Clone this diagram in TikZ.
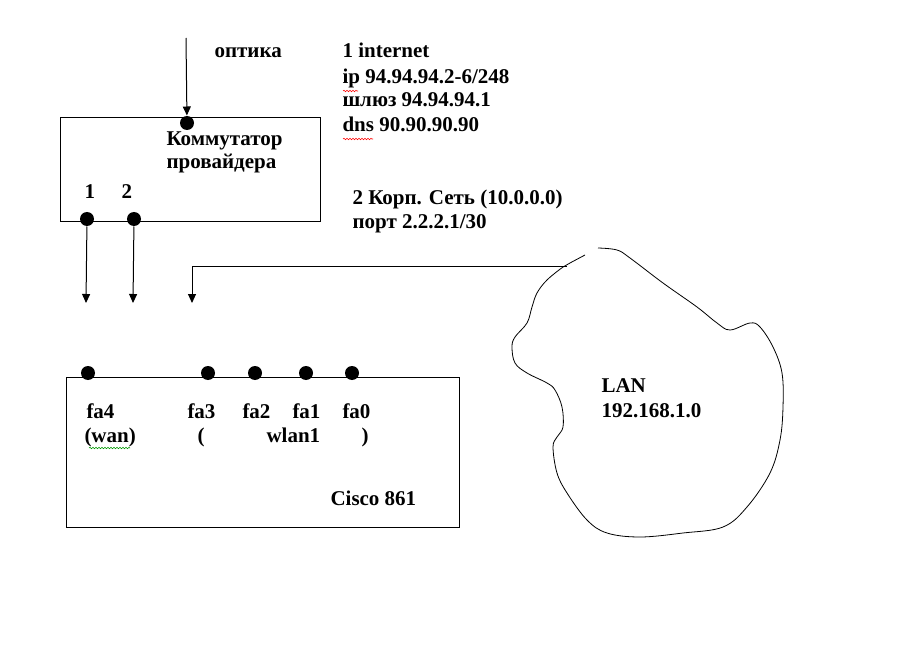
\documentclass[tikz,border=0pt]{standalone}
\usepackage{fontspec}
\setmainfont{Liberation Serif}
\usetikzlibrary{arrows.meta,decorations.pathmorphing}
\begin{document}
\begin{tikzpicture}[x=1pt,y=-1pt,
  line width=1pt,
  txt/.style={anchor=base west,inner sep=0pt,font=\fontsize{21}{25}\selectfont\bfseries},
  portdot/.style={circle,fill=black,inner sep=0pt,minimum size=14pt},
  box/.style={draw,line width=1pt},
  arr/.style={-{Triangle[length=9pt,width=8pt]},line width=1pt},
  wavy/.style={decorate,decoration={snake,amplitude=0.7pt,segment length=3pt},line width=0.6pt}]
\useasboundingbox (0,0) rectangle (913,663);
% provider switch
\draw[box] (60,118) rectangle (320,222);
\node[portdot] (dotop) at (187,123) {};
\coordinate (optin) at (186,38);
\draw[arr] (optin) -- (dotop);
\node[txt] (optika) at (214,58) {оптика};
\node[txt] (kom) at (166,146) {Коммутатор};
\node[txt] (prov) at (166,169) {провайдера};
\node[txt] (n1) at (84,199) {1};
\node[txt] (n2) at (121,199) {2};
\node[portdot] (p1) at (87,219) {};
\node[portdot] (p2) at (134,219) {};
\coordinate (a1) at (86,303);
\coordinate (a2) at (133,303);
\coordinate (a3) at (192,303);
\draw[arr] (p1) -- (a1);
\draw[arr] (p2) -- (a2);
% info text
\node[txt] (t1) at (342,58) {1 internet};
\node[txt] (t2) at (342,84) {ip 94.94.94.2-6/248};
\node[txt] (t3) at (342,107) {шлюз 94.94.94.1};
\node[txt] (t4) at (342,132) {dns 90.90.90.90};
\draw[wavy,red] (343,91) -- (358,91);
\draw[wavy,red] (343,139) -- (373,139);
\node[txt] (t5) at (352,205) {2 Корп. Сеть (10.0.0.0)};
\node[txt] (t6) at (352,229) {порт 2.2.2.1/30};
% Cisco box
\draw[box] (66,377) rectangle (459,527);
\node[portdot] (fa4) at (88,373) {};
\node[portdot] (fa3) at (208,373) {};
\node[portdot] (fa2) at (255,373) {};
\node[portdot] (fa1) at (306,373) {};
\node[portdot] (fa0) at (352,373) {};
\node[txt] (l4) at (86,418) {fa4};
\node[txt] (l3) at (187,418) {fa3};
\node[txt] (l2) at (242,418) {fa2};
\node[txt] (l1) at (292,418) {fa1};
\node[txt] (l0) at (342,418) {fa0};
\node[txt] (wan) at (84,442) {(wan)};
\draw[wavy,green!60!black] (89,448) -- (130,448);
\node[txt] (lp) at (197,442) {(};
\node[txt] (wl) at (266,442) {wlan1};
\node[txt] (rp) at (361,442) {)};
\node[txt] (cisco) at (330,505) {Cisco 861};
% LAN cloud
\draw[line width=0.8pt] plot[smooth,tension=0.6] coordinates {
 (598,248) (617,250) (630,258) (663,283) (697,307) (717,323) (730,330)
 (750,323) (760,327) (773,347) (782,373) (783,407) (780,440) (770,473)
 (747,507) (723,527) (683,533) (640,537) (607,533) (587,520) (567,493)
 (557,473) (553,447) (557,437) (563,427) (562,407) (555,390) (547,383)
 (527,373) (515,363) (512,347) (515,337) (527,323) (532,307) (537,293)
 (547,280) (563,267) (570,263) (585,255)};
\coordinate (cloudend) at (567,266);
\draw[arr] (cloudend) -| (a3);
\node[txt] (lan) at (601,392) {LAN};
\node[txt] (lanip) at (601,417) {192.168.1.0};
\end{tikzpicture}
\end{document}
